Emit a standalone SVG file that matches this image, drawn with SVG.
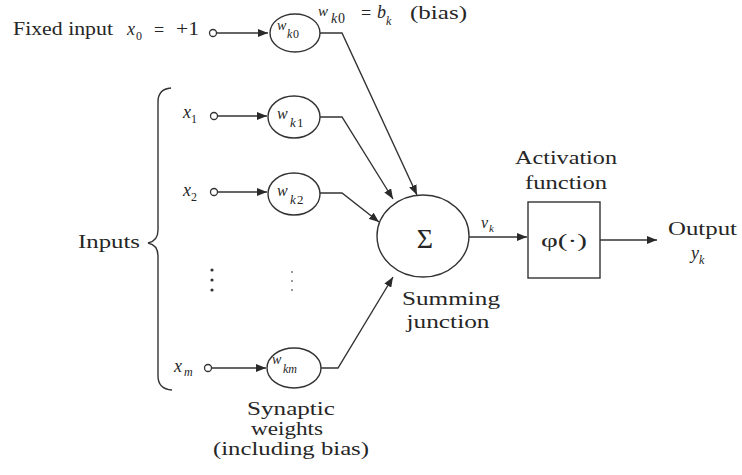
<svg xmlns="http://www.w3.org/2000/svg" width="742" height="475" viewBox="0 0 742 475">
<defs>
<marker id="ah" viewBox="0 0 10 8" refX="10" refY="4" markerWidth="10" markerHeight="8" markerUnits="userSpaceOnUse" orient="auto">
<path d="M0,0 L10,4 L0,8 Z" fill="#2a2a2a"/>
</marker>
</defs>
<style>
text{font-family:"Liberation Serif","Times New Roman",serif;fill:#262626;font-size:18px}
.i{font-style:italic}
.s{font-size:12px}
.ln{fill:none;stroke:#333;stroke-width:1.4}
.arr{fill:none;stroke:#333;stroke-width:1.4;marker-end:url(#ah)}
.nd{fill:#fff;stroke:#333;stroke-width:1.4}
.pt{fill:#fff;stroke:#333;stroke-width:1.3}
</style>
<rect width="742" height="475" fill="#fff"/>

<g id="connectors">
<path class="arr" d="M217,33 L268,33"/>
<path class="arr" d="M218,116 L267,116"/>
<path class="arr" d="M218,192 L267,192"/>
<path class="arr" d="M212,368 L266,368"/>
<path class="arr" d="M319,33 L342,33 L417,195"/>
<path class="arr" d="M320,117 L342,117 L393,199"/>
<path class="arr" d="M320,193 L342,193 L379,222"/>
<path class="arr" d="M320,368 L338,368 L393,277"/>
<path class="arr" d="M469,237 L527,237"/>
<path class="arr" d="M600,240 L657,240"/>
</g>

<g id="fixed-input">
<text x="13" y="35" textLength="100" lengthAdjust="spacingAndGlyphs">Fixed input</text>
<text x="127" y="35" class="i">x</text>
<text x="136" y="40" class="s">0</text>
<text x="154" y="36">=</text>
<text x="176" y="35" textLength="23" lengthAdjust="spacingAndGlyphs">+1</text>
<circle class="pt" cx="213" cy="33" r="3.5"/>
</g>

<g id="bias-label">
<text x="318" y="16" class="i" style="font-size:15px">w</text>
<text x="331" y="23" class="i" style="font-size:14px">k</text><text x="338" y="23" style="font-size:14px">0</text>
<text x="361" y="19">=</text>
<text x="377" y="18" class="i">b</text>
<text x="386" y="25" class="i s">k</text>
<text x="410" y="19" textLength="57" lengthAdjust="spacingAndGlyphs">(bias)</text>
</g>

<g id="w-k0">
<ellipse class="nd" cx="295" cy="33" rx="25" ry="19"/>
<text x="277" y="30" class="i" style="font-size:14px">w</text>
<text x="287" y="38" class="i s">k</text><text x="293" y="38" class="s">0</text>
</g>

<g id="x1">
<text x="183" y="118" class="i">x</text>
<text x="191" y="123" class="s">1</text>
<circle class="pt" cx="214" cy="116" r="3.5"/>
</g>
<g id="w-k1">
<ellipse class="nd" cx="294" cy="117" rx="26" ry="21"/>
<text x="277" y="119" class="i" style="font-size:16px">w</text>
<text x="290" y="127" class="i" style="font-size:13px">k</text><text x="297" y="127" style="font-size:13px">1</text>
</g>

<g id="x2">
<text x="183" y="196" class="i">x</text>
<text x="191" y="201" class="s">2</text>
<circle class="pt" cx="214" cy="192" r="3.5"/>
</g>
<g id="w-k2">
<ellipse class="nd" cx="294" cy="194" rx="26" ry="21"/>
<text x="277" y="196" class="i" style="font-size:16px">w</text>
<text x="290" y="204" class="i" style="font-size:13px">k</text><text x="297" y="204" style="font-size:13px">2</text>
</g>

<g id="dots">
<circle cx="212" cy="270" r="1.6" fill="#333"/>
<circle cx="212" cy="280" r="1.6" fill="#333"/>
<circle cx="212" cy="290" r="1.6" fill="#333"/>
<circle cx="292" cy="272" r="1" fill="#777"/>
<circle cx="292" cy="281" r="1" fill="#777"/>
<circle cx="292" cy="290" r="1" fill="#777"/>
</g>

<g id="xm">
<text x="174" y="372" class="i">x</text>
<text x="184" y="376" class="i s">m</text>
<circle class="pt" cx="208" cy="368" r="3.5"/>
</g>
<g id="w-km">
<ellipse class="nd" cx="294" cy="368" rx="27" ry="20"/>
<text x="272" y="364" class="i" style="font-size:14px">w</text>
<text x="283" y="373" class="i" style="font-size:12px">km</text>
</g>

<g id="inputs-brace">
<path class="ln" d="M171,88 Q158,89 158,102 L158,230 Q158,241 148,243 Q158,245 158,256 L158,376 Q158,389 172,390" stroke-width="1.6"/>
<text x="78" y="248" textLength="62" lengthAdjust="spacingAndGlyphs">Inputs</text>
</g>

<g id="synaptic-label">
<text x="291" y="415" text-anchor="middle" textLength="88" lengthAdjust="spacingAndGlyphs">Synaptic</text>
<text x="287" y="435" text-anchor="middle" textLength="72" lengthAdjust="spacingAndGlyphs">weights</text>
<text x="291" y="455" text-anchor="middle" textLength="156" lengthAdjust="spacingAndGlyphs">(including bias)</text>
</g>

<g id="summing">
<ellipse class="nd" cx="423" cy="236" rx="46" ry="41"/>
<text x="425" y="248" text-anchor="middle" style="font-size:28px">Σ</text>
<text x="451" y="305" text-anchor="middle" textLength="98" lengthAdjust="spacingAndGlyphs">Summing</text>
<text x="448" y="328" text-anchor="middle" textLength="83" lengthAdjust="spacingAndGlyphs">junction</text>
</g>

<g id="vk">
<text x="481" y="228" class="i" style="font-size:16px">v</text>
<text x="489" y="232" class="i" style="font-size:11px">k</text>
</g>

<g id="activation">
<rect class="nd" x="528" y="202" width="72" height="76"/>
<text x="564" y="247" text-anchor="middle" textLength="46" lengthAdjust="spacingAndGlyphs">φ(·)</text>
<text x="566" y="164" text-anchor="middle" textLength="102" lengthAdjust="spacingAndGlyphs">Activation</text>
<text x="566" y="189" text-anchor="middle" textLength="82" lengthAdjust="spacingAndGlyphs">function</text>
</g>

<g id="output">
<text x="668" y="235" textLength="69" lengthAdjust="spacingAndGlyphs">Output</text>
<text x="691" y="259" class="i">y</text>
<text x="699" y="264" class="i s">k</text>
</g>
</svg>
